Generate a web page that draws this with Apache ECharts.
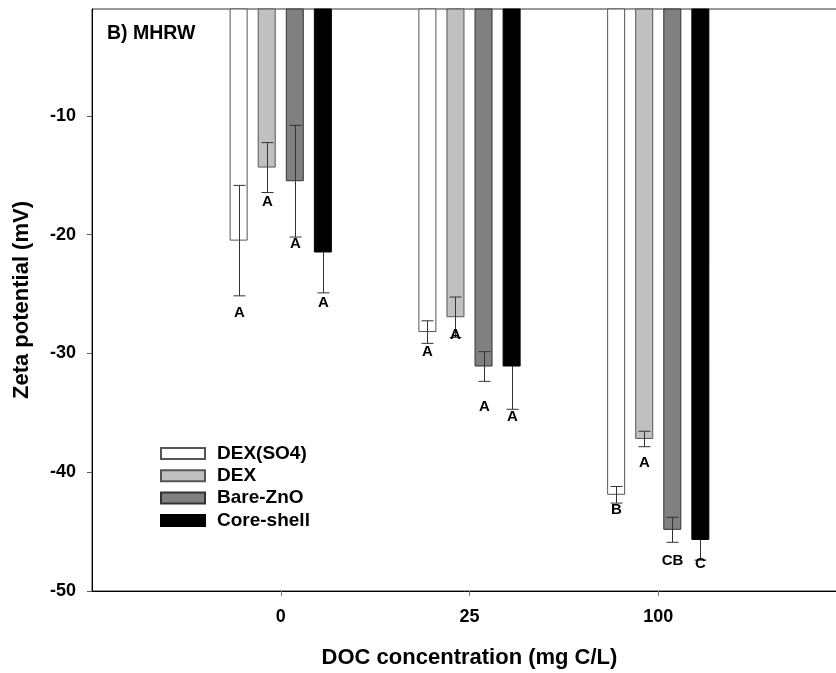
<!DOCTYPE html>
<html>
<head>
<meta charset="utf-8">
<script src="https://cdn.jsdelivr.net/npm/echarts@6/dist/echarts.min.js"></script>
<style>
html,body{margin:0;padding:0;background:#fff;}
#c{width:836px;height:673px;}
</style>
</head>
<body>
<div id="c"></div>
<script>
// ---- data ----
const categories = ['0', '25', '100'];
const seriesNames = ['DEX(SO4)', 'DEX', 'Bare-ZnO', 'Core-shell'];
const dexSO4Mean = [-20.5, -28.2, -41.9];
const dexMean = [-14.35, -26.95, -37.2];
const bareMean = [-15.5, -31.1, -44.85];
const coreMean = [-21.5, -31.1, -45.7];
const dexSO4Sd = [4.65, 0.95, 0.7];
const dexSd = [2.1, 1.7, 0.65];
const bareSd = [4.7, 1.25, 1.05];
const coreSd = [3.4, 3.6, 1.7];
const dexSO4Letters = ['A', 'A', 'B'];
const dexLetters = ['A', 'A', 'A'];
const bareLetters = ['A', 'A', 'CB'];
const coreLetters = ['A', 'A', 'C'];
// letter anchor values (mV)
const dexSO4LetterY = [-26.6, -29.9, -43.15];
const dexLetterY = [-17.2, -28.4, -39.25];
const bareLetterY = [-20.75, -34.5, -47.5];
const coreLetterY = [-25.7, -35.3, -47.7];
const yTicks = [-50, -40, -30, -20, -10];

// ---- build ----
const FONT = 'Arial, "Liberation Sans", sans-serif';
const means = [dexSO4Mean, dexMean, bareMean, coreMean];
const sds = [dexSO4Sd, dexSd, bareSd, coreSd];
const letters = [dexSO4Letters, dexLetters, bareLetters, coreLetters];
const letterYs = [dexSO4LetterY, dexLetterY, bareLetterY, coreLetterY];
const fills = ['#ffffff', '#c0c0c0', '#808080', '#000000'];
const borders = ['#555555', '#555555', '#333333', '#000000'];
const axisCats = [''].concat(categories).concat([' ']);
const BAR_W = 18;
const GAP_RATIO = 0.56;

const series = [];
seriesNames.forEach((name, i) => {
  series.push({
    name: name,
    type: 'bar',
    barWidth: BAR_W,
    barGap: (GAP_RATIO * 100) + '%',
    data: [null].concat(means[i]).concat([null]),
    itemStyle: { color: fills[i], borderColor: borders[i], borderWidth: 1 },
    clip: true,
    silent: true
  });
});
seriesNames.forEach((name, i) => {
  const offset = (i - 1.5) * BAR_W * (1 + GAP_RATIO);
  const upperColor = i === 3 ? '#000' : '#333';
  series.push({
    type: 'custom',
    silent: true,
    z: 5,
    clip: false,
    encode: { x: 0, y: 1 },
    data: categories.map((c, k) => [k + 1, means[i][k], sds[i][k], letterYs[i][k]]),
    renderItem: function (params, api) {
      const ci = api.value(0);
      const m = api.value(1);
      const s = api.value(2);
      const ly = api.value(3);
      const x = Math.round(api.coord([ci, m])[0] + offset) + 0.5;
      const yMid = api.coord([ci, m])[1];
      const yTop = api.coord([ci, m + s])[1];
      const yBot = api.coord([ci, m - s])[1];
      const yL = api.coord([ci, ly])[1];
      const cap = 6;
      const lsLow = { stroke: '#333', lineWidth: 1 };
      const lsUp = { stroke: upperColor, lineWidth: 1 };
      return {
        type: 'group',
        children: [
          { type: 'line', shape: { x1: x, y1: yTop, x2: x, y2: yMid }, style: lsUp },
          { type: 'line', shape: { x1: x, y1: yMid, x2: x, y2: yBot }, style: lsLow },
          { type: 'line', shape: { x1: x - cap, y1: yTop, x2: x + cap, y2: yTop }, style: lsUp },
          { type: 'line', shape: { x1: x - cap, y1: yBot, x2: x + cap, y2: yBot }, style: lsLow },
          { type: 'text', style: { text: letters[i][params.dataIndex], x: x, y: yL,
              font: 'bold 15px ' + FONT, fill: '#000', align: 'center', verticalAlign: 'middle' } }
        ]
      };
    }
  });
});

const chart = echarts.init(document.getElementById('c'), null, { renderer: 'canvas' });
chart.setOption({
  animation: false,
  backgroundColor: '#ffffff',
  textStyle: { fontFamily: FONT },
  title: {
    text: 'B) MHRW', left: 107, top: 24, padding: 0,
    textStyle: { fontSize: 19.5, fontWeight: 'bold', color: '#000', fontFamily: FONT }
  },
  legend: {
    orient: 'vertical', left: 160, top: 444, padding: 0,
    itemWidth: 44, itemHeight: 11, itemGap: 3.3, icon: 'rect',
    data: seriesNames,
    textStyle: { fontSize: 19, fontWeight: 'bold', color: '#000', fontFamily: FONT, lineHeight: 18, padding: [0, 0, 0, 7] }
  },
  grid: { left: 92, right: -11, top: 9, bottom: 82, outerBoundsMode: 'none', containLabel: false,
          show: true, borderColor: '#333', borderWidth: 1, backgroundColor: 'transparent' },
  xAxis: {
    type: 'category',
    data: axisCats,
    boundaryGap: false,
    name: 'DOC concentration (mg C/L)',
    nameLocation: 'middle',
    nameGap: 56,
    nameTextStyle: { fontSize: 22, fontWeight: 'bold', color: '#000', fontFamily: FONT },
    axisLine: { lineStyle: { color: '#000', width: 1 } },
    axisTick: {
      length: 5,
      interval: function (idx, val) { return val.trim() !== ''; },
      lineStyle: { color: '#777' }
    },
    axisLabel: { interval: 0, margin: 17, fontSize: 18, fontWeight: 'bold', color: '#000', fontFamily: FONT },
    splitLine: { show: false }
  },
  yAxis: {
    type: 'value',
    min: -50, max: -1, interval: 10,
    name: 'Zeta potential (mV)',
    nameLocation: 'middle',
    nameGap: 59,
    nameTextStyle: { fontSize: 22, fontWeight: 'bold', color: '#000', fontFamily: FONT },
    axisLine: { show: true, lineStyle: { color: '#000', width: 1 } },
    axisTick: { show: true, length: 5, customValues: yTicks, lineStyle: { color: '#555' } },
    axisLabel: { customValues: yTicks, margin: 16, fontSize: 18, fontWeight: 'bold', color: '#000', fontFamily: FONT },
    splitLine: { show: false }
  },
  series: series
});
</script>
</body>
</html>
